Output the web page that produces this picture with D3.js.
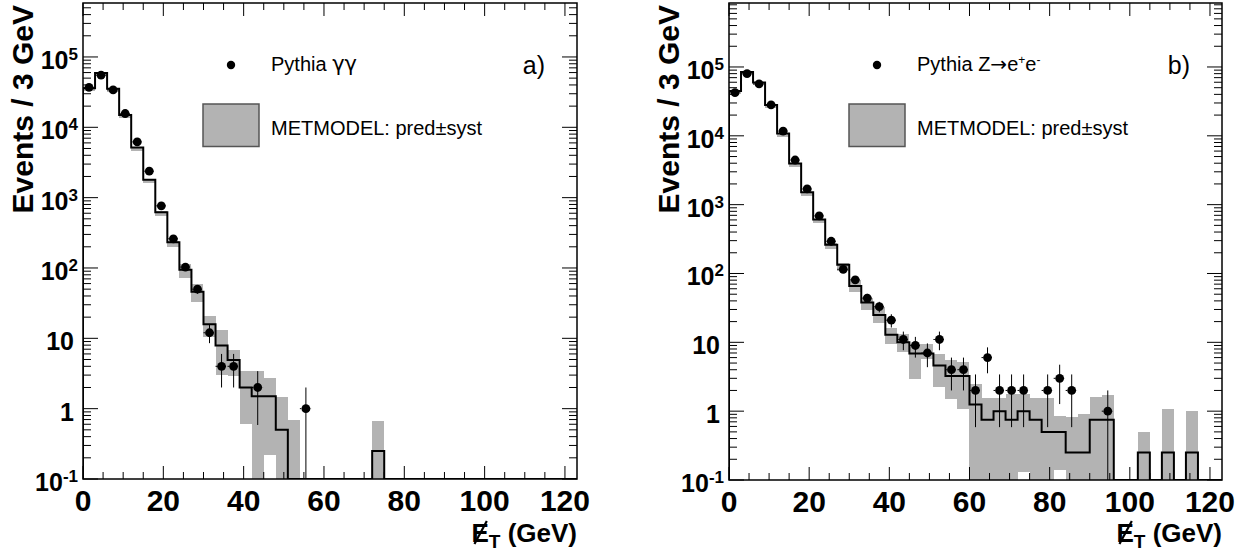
<!DOCTYPE html>
<html>
<head>
<meta charset="utf-8">
<title>MET model prediction</title>
<script src="https://cdnjs.cloudflare.com/ajax/libs/d3/7.8.5/d3.min.js"></script>
<style>
body { margin: 0; background: #fff; }
svg { font-family: "Liberation Sans", Arial, Helvetica, sans-serif; }
.band { fill: #b3b3b3; shape-rendering: crispEdges; }
.pred { fill: none; stroke: #000; stroke-width: 2; }
.err { stroke: #000; stroke-width: 1; }
.frame { fill: none; stroke: #000; stroke-width: 1.5; }
.tick { stroke: #000; stroke-width: 1; }
.lab { font-weight: bold; }
</style>
</head>
<body>
<script>
var width = 1243, height = 552;
var binWidth = 3, xMax = 123;
var xTicks = [0, 20, 40, 60, 80, 100, 120];
var yExps = [-1, 0, 1, 2, 3, 4, 5];

// panel a) : Pythia gamma gamma
var dataA = [37000, 55000, 34000, 15700, 6200, 2380, 764, 260, 103, 50, 12, 4, 4, 0, 2, 0, 0, 0, 1,
    0, 0, 0, 0, 0, 0, 0, 0, 0, 0, 0, 0, 0, 0, 0, 0, 0, 0, 0, 0, 0, 0];
var predA = [36000, 59000, 35300, 15000, 5160, 1790, 622, 233, 94, 46, 15.9, 7.9, 4.9, 2.0, 1.5, 1.5, 0.5,
    0, 0, 0, 0, 0, 0, 0, 0.25, 0, 0, 0, 0, 0, 0, 0, 0, 0, 0, 0, 0, 0, 0, 0, 0];
var lowA = [33000, 54000, 32000, 13500, 4650, 1600, 540, 200, 72, 33, 10.6, 3.0, 2.9, 0.6, 0, 0.22, 0,
    0, 0, 0, 0, 0, 0, 0, 0, 0, 0, 0, 0, 0, 0, 0, 0, 0, 0, 0, 0, 0, 0, 0, 0];
var highA = [37000, 60000, 36000, 15300, 5250, 1830, 640, 240, 114, 59, 20.8, 13.2, 6.8, 3.4, 3.4, 2.76, 1.47,
    0.69, 0, 0, 0, 0, 0, 0, 0.67, 0, 0, 0, 0, 0, 0, 0, 0, 0, 0, 0, 0, 0, 0, 0, 0];

// panel b) : Pythia Z -> ee
var dataB = [42400, 80000, 56700, 28100, 11700, 4450, 1690, 686, 294, 115, 81, 44, 33, 21, 11, 9, 7, 11, 4, 4,
    2, 6, 2, 2, 2, 0, 2, 3, 2, 0, 0, 1, 0, 0, 0, 0, 0, 0, 0, 0, 0];
var predB = [44900, 84700, 59300, 28100, 10800, 3970, 1510, 607, 261, 134, 66, 38, 25, 12.9, 10, 6.9, 6.9, 4.6, 3.25, 3.25,
    1.25, 0.75, 1.0, 0.75, 1.0, 0.75, 0.5, 0.5, 0.25, 0.25, 0.75, 0.75, 0, 0, 0.25, 0, 0.25, 0, 0.25, 0, 0];
var lowB = [40000, 77000, 54000, 25500, 9700, 3550, 1340, 540, 228, 108, 53.6, 29.1, 19, 9.35, 7.2, 2.98, 5.8, 2.25, 1.48, 1.09,
    0, 0, 0, 0, 0.13, 0, 0, 0.14, 0, 0, 0, 0, 0, 0, 0, 0, 0, 0, 0, 0, 0];
var highB = [46000, 86000, 60500, 28700, 11000, 4050, 1540, 620, 275, 141, 81, 44.5, 33, 16.3, 13.4, 9.6, 9.35, 6.86, 5.48, 5.19,
    2.46, 1.53, 1.53, 1.8, 1.8, 1.53, 1.53, 0.85, 0.81, 0.9, 1.6, 1.7, 0, 0, 0.5, 0, 1.08, 0, 1.0, 0, 0];

var svg = d3.select("body").append("svg")
    .attr("width", width)
    .attr("height", height);

var defs = svg.append("defs");

drawPanel({id: "a", left: 83, right: 577, top: 3, bottom: 479, yMax: 5.85e5,
    data: dataA, pred: predA, low: lowA, high: highA, tag: "a)", legend: "gg"});
drawPanel({id: "b", left: 729, right: 1222, top: 3, bottom: 480, yMax: 8.5e5,
    data: dataB, pred: predB, low: lowB, high: highB, tag: "b)", legend: "zee"});

function drawPanel(p){
    var x = d3.scaleLinear().domain([0, xMax]).range([p.left, p.right]);
    var y = d3.scaleLog().domain([0.1, p.yMax]).range([p.bottom, p.top]);
    var yv = function(v){ return v > 0 ? y(v) : p.bottom; };
    var bins = d3.range(p.pred.length);

    defs.append("clipPath").attr("id", "clip-" + p.id)
        .append("rect")
        .attr("x", p.left).attr("y", p.top)
        .attr("width", p.right - p.left).attr("height", p.bottom - p.top);

    var g = svg.append("g");
    var plot = g.append("g").attr("clip-path", "url(#clip-" + p.id + ")");

    // systematic band
    plot.selectAll("rect.band")
        .data(bins.filter(function(i){ return p.high[i] > 0; }))
        .join("rect")
        .attr("class", "band")
        .attr("x", function(i){ return x(i * binWidth); })
        .attr("width", function(i){ return x((i + 1) * binWidth) - x(i * binWidth); })
        .attr("y", function(i){ return y(p.high[i]); })
        .attr("height", function(i){ return yv(p.low[i]) - y(p.high[i]); });

    // prediction histogram
    var pts = [[0, 0]].concat(bins.map(function(i){ return [i * binWidth, p.pred[i]]; }));
    pts.push([xMax, 0]);
    var line = d3.line()
        .curve(d3.curveStepAfter)
        .x(function(d){ return x(d[0]); })
        .y(function(d){ return yv(d[1]); });
    plot.append("path").attr("class", "pred").attr("d", line(pts));

    // data points with errors
    var pd = bins.filter(function(i){ return p.data[i] > 0; });
    var cx = function(i){ return x((i + 0.5) * binWidth); };
    plot.selectAll("line.ev").data(pd).join("line")
        .attr("class", "err")
        .attr("x1", cx).attr("x2", cx)
        .attr("y1", function(i){ return y(p.data[i] + Math.sqrt(p.data[i])); })
        .attr("y2", function(i){ return yv(p.data[i] - Math.sqrt(p.data[i])); });
    plot.selectAll("line.eh").data(pd).join("line")
        .attr("class", "err")
        .attr("stroke-dasharray", "1.5,1.5")
        .attr("x1", function(i){ return x(i * binWidth); })
        .attr("x2", function(i){ return x((i + 1) * binWidth); })
        .attr("y1", function(i){ return y(p.data[i]); })
        .attr("y2", function(i){ return y(p.data[i]); });
    plot.selectAll("circle.pt").data(pd).join("circle")
        .attr("cx", cx)
        .attr("cy", function(i){ return y(p.data[i]); })
        .attr("r", 4.4);

    // frame
    g.append("rect").attr("class", "frame")
        .attr("x", p.left).attr("y", p.top)
        .attr("width", p.right - p.left).attr("height", p.bottom - p.top);

    // x ticks (inside, bottom and top)
    var xt = d3.range(0, xMax + 1, 5);
    xt.forEach(function(t){
        var len = (t % 20 === 0) ? 13 : 7;
        g.append("line").attr("class", "tick")
            .attr("x1", x(t)).attr("x2", x(t))
            .attr("y1", p.bottom).attr("y2", p.bottom - len);
        g.append("line").attr("class", "tick")
            .attr("x1", x(t)).attr("x2", x(t))
            .attr("y1", p.top).attr("y2", p.top + len);
    });
    g.selectAll("text.xl").data(xTicks).join("text")
        .attr("class", "lab")
        .attr("x", function(d){ return x(d); })
        .attr("y", p.bottom + 32)
        .attr("text-anchor", "middle")
        .attr("font-size", 30)
        .text(function(d){ return d; });

    // y ticks (log, inside, left and right)
    yExps.forEach(function(e){
        d3.range(1, 10).forEach(function(m){
            var v = m * Math.pow(10, e);
            if (v < 0.1 || v > p.yMax) return;
            var len = (m === 1) ? 15 : 8;
            g.append("line").attr("class", "tick")
                .attr("x1", p.left).attr("x2", p.left + len)
                .attr("y1", y(v)).attr("y2", y(v));
            g.append("line").attr("class", "tick")
                .attr("x1", p.right).attr("x2", p.right - len)
                .attr("y1", y(v)).attr("y2", y(v));
        });
    });
    yExps.forEach(function(e){
        var ty = y(Math.pow(10, e));
        var t = g.append("text").attr("class", "lab")
            .attr("y", ty + 12)
            .attr("text-anchor", "end")
            .attr("font-size", 25);
        if (e === 0 || e === 1){
            t.attr("x", p.left - 9).text(e === 0 ? "1" : "10");
        } else {
            t.attr("x", p.left - 5);
            t.append("tspan").text("10");
            t.append("tspan").attr("dy", -9).attr("font-size", 17).text(e);
        }
    });

    // axis titles
    g.append("text").attr("class", "lab")
        .attr("transform", "translate(" + (p.left - 50) + "," + (p.top + 2) + ") rotate(-90)")
        .attr("text-anchor", "end")
        .attr("font-size", 30)
        .text("Events / 3  GeV");

    var xt2 = g.append("text").attr("class", "lab")
        .attr("x", p.right).attr("y", 542)
        .attr("text-anchor", "end")
        .attr("font-size", 26);
    xt2.append("tspan").text("E");
    xt2.append("tspan").attr("dy", 6).attr("font-size", 19).text("T");
    xt2.append("tspan").attr("dy", -6).text(" (GeV)");
    var n = xt2.node();
    var s0 = n.getStartPositionOfChar(0), e0 = n.getEndPositionOfChar(0);
    g.append("line")
        .attr("x1", s0.x + 3).attr("y1", 544)
        .attr("x2", e0.x - 2).attr("y2", 521)
        .attr("stroke", "#000").attr("stroke-width", 2.2);

    // legend
    g.append("circle").attr("cx", p.left + 148).attr("cy", 65).attr("r", 4.2);
    var lt = g.append("text").attr("x", p.left + 188).attr("y", 71).attr("font-size", 20);
    if (p.legend === "gg"){
        lt.append("tspan").text("Pythia ");
        lt.append("tspan").attr("font-family", "DejaVu Sans").attr("font-size", 21).text("\u03b3\u03b3");
    } else {
        lt.append("tspan").text("Pythia Z");
        lt.append("tspan").attr("font-family", "DejaVu Sans").text("\u2192");
        lt.append("tspan").text("e");
        lt.append("tspan").attr("dy", -7).attr("font-size", 12).text("+");
        lt.append("tspan").attr("dy", 7).text("e");
        lt.append("tspan").attr("dy", -7).attr("font-size", 12).text("-");
    }
    g.append("rect")
        .attr("x", p.left + 120).attr("y", 104)
        .attr("width", 56).attr("height", 42.5)
        .attr("fill", "#b3b3b3").attr("stroke", "#555").attr("stroke-width", 1.5);
    g.append("text").attr("x", p.left + 188).attr("y", 135).attr("font-size", 20)
        .text("METMODEL: pred\u00b1syst");
    g.append("text").attr("x", p.right - 32).attr("y", 74)
        .attr("text-anchor", "end").attr("font-size", 25)
        .text(p.tag);
}
</script>
</body>
</html>
